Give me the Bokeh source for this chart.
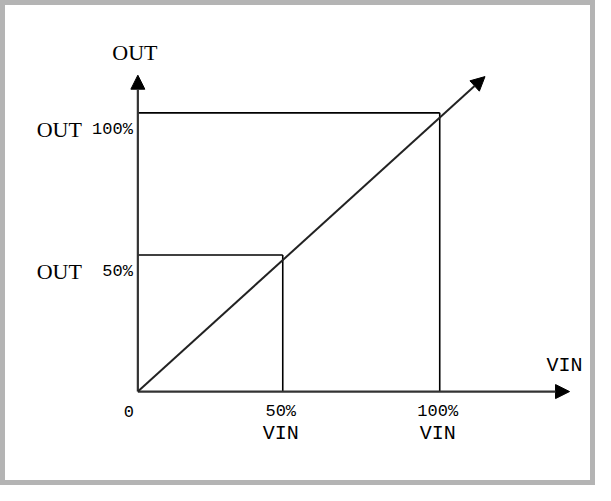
from bokeh.plotting import figure
from bokeh.models import Range1d, Arrow, NormalHead
from bokeh.core.properties import value
from bokeh.embed import file_html
from bokeh.resources import INLINE

# ---- data (in percent of full scale) ----
guide_x = [48, 100]          # VIN positions of the 50% / 100% guides
guide_y = [49, 100]          # OUT positions of the 50% / 100% guides
y_tick_pct = ["50%", "100%"]
y_tick_name = ["OUT", "OUT"]
x_tick_pct = ["50%", "100%"]
x_tick_name = ["VIN", "VIN"]
origin_label = ["0"]
x_axis_end = 143             # tip of the VIN arrow
y_axis_end = 113.5           # tip of the OUT arrow
diag_end = (115, 113)        # tip of the transfer line arrow
x_title = "VIN"
y_title = "OUT"

p = figure(width=595, height=485, output_backend="svg", toolbar_location=None,
           x_range=Range1d(-45.5, 151.6), y_range=Range1d(-33.7, 140.3),
           min_border=0)
p.axis.visible = False
p.grid.visible = False
p.background_fill_color = "white"
p.border_fill_color = "white"
p.outline_line_color = "#b4b4b4"
p.outline_line_width = 9

# guide lines
p.segment(x0=[0] * len(guide_x), y0=guide_y, x1=guide_x, y1=guide_y,
          line_color="black", line_width=1.6)
p.segment(x0=guide_x, y0=[0] * len(guide_x), x1=guide_x, y1=guide_y,
          line_color="black", line_width=1.6)

# axes and transfer line as arrows
def head():
    return NormalHead(size=14, fill_color="black", line_color="black", line_width=1)

p.add_layout(Arrow(end=head(), x_start=0, y_start=0, x_end=x_axis_end, y_end=0,
                   line_color="#333333", line_width=2.2))
p.add_layout(Arrow(end=head(), x_start=0, y_start=0, x_end=0, y_end=y_axis_end,
                   line_color="#333333", line_width=2.2))
p.add_layout(Arrow(end=head(), x_start=0, y_start=0, x_end=diag_end[0], y_end=diag_end[1],
                   line_color="#222222", line_width=2.0))

serif = value("Liberation Serif")
mono = value("Liberation Mono")

# y tick labels
p.text(x=[0] * len(guide_y), y=guide_y, text=y_tick_pct, text_font=mono,
       text_font_size=value("17px"), text_align="right", text_baseline="middle",
       x_offset=-5, y_offset=16.5, text_color="black")
p.text(x=[0] * len(guide_y), y=guide_y, text=y_tick_name, text_font=serif,
       text_font_size=value("22px"), text_align="right", text_baseline="middle",
       x_offset=-56, y_offset=16.5, text_color="black")

# x tick labels
p.text(x=guide_x, y=[0] * len(guide_x), text=x_tick_pct, text_font=mono,
       text_font_size=value("17px"), text_align="center", text_baseline="middle",
       x_offset=-2, y_offset=19.5, text_color="black")
p.text(x=guide_x, y=[0] * len(guide_x), text=x_tick_name, text_font=mono,
       text_font_size=value("20px"), text_align="center", text_baseline="middle",
       x_offset=-2, y_offset=42, text_color="black")
p.text(x=[0], y=[0], text=origin_label, text_font=mono,
       text_font_size=value("17px"), text_align="center", text_baseline="middle",
       x_offset=-9, y_offset=19.5, text_color="black")

# axis titles
p.text(x=[0], y=[y_axis_end], text=[y_title], text_font=serif,
       text_font_size=value("22px"), text_align="center", text_baseline="middle",
       x_offset=-3, y_offset=-23, text_color="black")
p.text(x=[x_axis_end], y=[0], text=[x_title], text_font=mono,
       text_font_size=value("20px"), text_align="center", text_baseline="middle",
       x_offset=-5, y_offset=-26, text_color="black")

open("out.html", "w").write(file_html(p, INLINE))
